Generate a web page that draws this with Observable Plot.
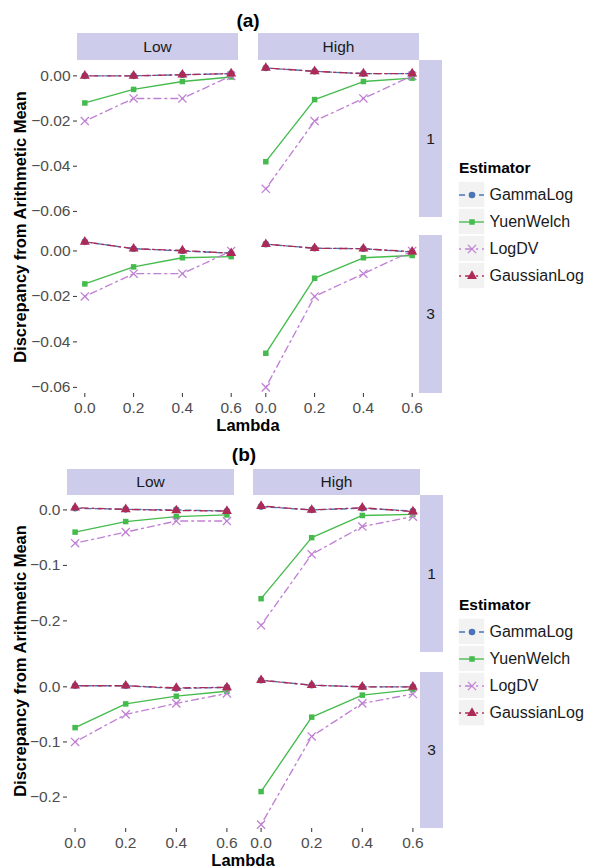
<!DOCTYPE html>
<html><head><meta charset="utf-8">
<script src="https://cdn.jsdelivr.net/npm/d3@7"></script>
<script src="https://cdn.jsdelivr.net/npm/@observablehq/plot@0.6"></script>
<style>
body{margin:0;background:#fff;font-family:"Liberation Sans",Arial,Helvetica,sans-serif;}
#root{position:relative;width:590px;height:868px;overflow:hidden;background:#fff;}
.strip{position:absolute;background:#cdcdeb;color:#1a1a1a;font-size:15.5px;display:flex;align-items:center;justify-content:center;}
.lab{position:absolute;white-space:nowrap;transform:translate(-50%,-50%);color:#000;}
.bold{font-weight:bold;}
#root svg.panel text{font-size:15.5px !important;fill:#4d4d4d;}
#root svg.legend text{font-size:16px !important;fill:#1a1a1a;}
</style></head>
<body><div id="root"></div>
<script>
// ---------- data ----------
const lambdas = [0, 0.2, 0.4, 0.6];
const estimators = ["GammaLog", "YuenWelch", "LogDV", "GaussianLog"];
const levels = ["Low", "High"];
const rowsLab = ["1", "3"];
// each array: Low/1, High/1, Low/3, High/3 (4 lambda values each)
const aGammaLog    = [0, 0, 0.0005, 0.001,   0.0035, 0.002, 0.001, 0.001,   0.004, 0.001, 0, -0.001,   0.003, 0.0012, 0.001, -0.0005];
const aYuenWelch   = [-0.012, -0.006, -0.0025, -0.0005,   -0.038, -0.0105, -0.0025, -0.001,   -0.0145, -0.007, -0.003, -0.0025,   -0.045, -0.012, -0.003, -0.002];
const aLogDV       = [-0.02, -0.01, -0.01, 0,   -0.05, -0.02, -0.01, 0,   -0.02, -0.01, -0.01, 0,   -0.06, -0.02, -0.01, 0];
const aGaussianLog = [0, 0, 0.0005, 0.001,   0.0035, 0.002, 0.001, 0.001,   0.004, 0.001, 0.0002, -0.001,   0.003, 0.0012, 0.001, -0.0003];

const bGammaLog    = [0.003, 0.001, 0, -0.002,   0.006, 0, 0.003, -0.002,   0.002, 0.002, -0.003, -0.001,   0.012, 0.003, 0, 0];
const bYuenWelch   = [-0.04, -0.021, -0.012, -0.009,   -0.16, -0.05, -0.01, -0.008,   -0.074, -0.031, -0.017, -0.008,   -0.19, -0.055, -0.015, -0.005];
const bLogDV       = [-0.06, -0.04, -0.02, -0.02,   -0.208, -0.08, -0.03, -0.012,   -0.1, -0.05, -0.03, -0.012,   -0.25, -0.09, -0.03, -0.013];
const bGaussianLog = [0.004, 0.001, -0.001, -0.002,   0.007, 0, 0.004, -0.003,   0.002, 0.002, -0.002, -0.001,   0.012, 0.003, 0, 0];

const yTicksA = [0, -0.02, -0.04, -0.06];
const yTicksB = [0, -0.1, -0.2];

// ---------- styles ----------
const colors = {GammaLog: "#4a74b8", YuenWelch: "#44bb4c", LogDV: "#c080d4", GaussianLog: "#ad2a55"};
const dashes = {GammaLog: "6,4", YuenWelch: null, LogDV: "2,4,7,4", GaussianLog: "2,4,7,4"};
const symbols = {GammaLog: "circle", YuenWelch: "square", LogDV: "times", GaussianLog: "triangle"};
const radii = {GammaLog: 3.3, YuenWelch: 3.1, LogDV: 3.8, GaussianLog: 3.7};
const FONT = '"Liberation Sans", Arial, Helvetica, sans-serif';

function buildTable(series) {
  const rows = [];
  estimators.forEach((est, k) => {
    series[k].forEach((v, i) => {
      const f = Math.floor(i / 4);
      rows.push({est, level: levels[f % 2], row: rowsLab[Math.floor(f / 2)], lambda: lambdas[i % 4], value: v});
    });
  });
  return rows;
}

const root = document.getElementById("root");

function addDiv(cls, text, left, top, extra) {
  const d = document.createElement("div");
  d.className = cls;
  d.textContent = text;
  d.style.left = left + "px";
  d.style.top = top + "px";
  Object.assign(d.style, extra || {});
  root.appendChild(d);
  return d;
}

function dotMark(d, est) {
  const o = {x: "lambda", y: "value", symbol: () => symbols[est], r: radii[est]};
  if (est === "LogDV") { o.stroke = colors[est]; o.fill = "none"; o.strokeWidth = 1.3; }
  else { o.fill = colors[est]; o.stroke = "none"; }
  return Plot.dot(d, o);
}

function drawPanel(rows, cfg) {
  const {x0, y0, w, h, yDomain, yTicks, yFmt, showY, showX} = cfg;
  const ml = showY ? 70 : 0, mb = showX ? 30 : 0;
  const marks = [];
  for (const est of estimators) {
    const d = rows.filter(r => r.est === est);
    const o = {x: "lambda", y: "value", stroke: colors[est], strokeWidth: 1.35};
    if (dashes[est]) o.strokeDasharray = dashes[est];
    marks.push(Plot.line(d, o));
  }
  for (const est of estimators) {
    marks.push(dotMark(rows.filter(r => r.est === est), est));
  }
  const p = Plot.plot({
    width: w + ml, height: h + mb,
    marginLeft: ml, marginRight: 0, marginTop: 0, marginBottom: mb,
    x: {domain: [-0.03, 0.63], ticks: lambdas, tickFormat: d3.format(".1f"), tickSize: 4, tickPadding: 4, label: null, axis: showX ? "bottom" : null},
    y: {domain: yDomain, ticks: yTicks, tickFormat: d3.format(yFmt), tickSize: 4, tickPadding: 3, label: null, axis: showY ? "left" : null},
    symbol: {type: "identity"},
    style: {background: "transparent", fontSize: "15.5px", fontFamily: FONT, color: "#333333", overflow: "visible"},
    marks
  });
  p.classList.add("panel");
  p.style.position = "absolute";
  p.style.left = (x0 - ml) + "px";
  p.style.top = y0 + "px";
  p.style.maxWidth = "none";
  root.appendChild(p);
}

function drawLegend(left, top) {
  const idx = estimators.map((e, i) => ({e, i}));
  const marks = [
    Plot.rect(idx, {x1: 0, x2: 1, y1: d => d.i, y2: d => d.i + 1, fill: "#f2f2f2", stroke: "white", strokeWidth: 1.5})
  ];
  for (const {e, i} of idx) {
    const o = {y: () => i + 0.5, x1: 0.04, x2: 0.96, stroke: colors[e], strokeWidth: 1.35};
    if (dashes[e]) o.strokeDasharray = dashes[e];
    marks.push(Plot.ruleY([0], o));
  }
  for (const {e, i} of idx) {
    marks.push(dotMark([{lambda: 0.5, value: i + 0.5}], e));
  }
  marks.push(Plot.text(idx, {x: 1, y: d => d.i + 0.5, text: d => d.e, dx: 4, textAnchor: "start", fill: "#1a1a1a", fontSize: 16}));
  const p = Plot.plot({
    width: 140, height: 108, margin: 0,
    x: {domain: [0, 1], range: [0, 27], axis: null},
    y: {domain: [0, 4], range: [0, 108], axis: null},
    symbol: {type: "identity"},
    style: {background: "transparent", fontSize: "16px", fontFamily: FONT, color: "#1a1a1a", overflow: "visible"},
    marks
  });
  p.classList.add("legend");
  p.style.position = "absolute";
  p.style.left = left + "px";
  p.style.top = top + "px";
  p.style.maxWidth = "none";
  root.appendChild(p);
}

function drawFigure(series, g) {
  const table = buildTable(series);
  levels.forEach((lv, c) => {
    rowsLab.forEach((rw, r) => {
      drawPanel(table.filter(d => d.level === lv && d.row === rw), {
        x0: g.cols[c][0], w: g.cols[c][1] - g.cols[c][0],
        y0: g.rows[r][0], h: g.rows[r][1] - g.rows[r][0],
        yDomain: g.yDomain, yTicks: g.yTicks, yFmt: g.yFmt,
        showY: c === 0, showX: r === 1
      });
    });
    const s = addDiv("strip", lv, g.cols[c][0], g.stripTop[0]);
    s.style.width = (g.cols[c][1] - g.cols[c][0]) + "px";
    s.style.height = (g.stripTop[1] - g.stripTop[0]) + "px";
  });
  rowsLab.forEach((rw, r) => {
    const s = addDiv("strip", rw, g.stripRight[0], g.rows[r][0]);
    s.style.width = (g.stripRight[1] - g.stripRight[0]) + "px";
    s.style.height = (g.rows[r][1] - g.rows[r][0]) + "px";
  });
  addDiv("lab bold", g.title, g.titlePos[0], g.titlePos[1], {fontSize: "19px"});
  addDiv("lab bold", "Lambda", g.xLabPos[0], g.xLabPos[1], {fontSize: "16.5px"});
  addDiv("lab bold", "Discrepancy from Arithmetic Mean", g.yLabPos[0], g.yLabPos[1],
    {fontSize: "16.5px", transform: "translate(-50%,-50%) rotate(-90deg)"});
  addDiv("lab bold", "Estimator", g.legTitle[0], g.legTitle[1], {fontSize: "15.5px", transform: "translate(0,-50%)"});
  drawLegend(g.legKeys[0], g.legKeys[1]);
}

drawFigure([aGammaLog, aYuenWelch, aLogDV, aGaussianLog], {
  cols: [[77, 238], [258, 419]], rows: [[60, 217], [235, 393]],
  stripTop: [33, 60], stripRight: [419, 442],
  yDomain: [-0.0627, 0.0068], yTicks: yTicksA, yFmt: ".2f",
  title: "(a)", titlePos: [248, 21], xLabPos: [248, 425], yLabPos: [20, 227],
  legTitle: [459, 168], legKeys: [458, 181]
});

drawFigure([bGammaLog, bYuenWelch, bLogDV, bGaussianLog], {
  cols: [[67, 234], [253, 420]], rows: [[495, 652], [672, 828]],
  stripTop: [469, 495], stripRight: [420, 443],
  yDomain: [-0.257, 0.026], yTicks: yTicksB, yFmt: ".1f",
  title: "(b)", titlePos: [244, 455], xLabPos: [243, 860], yLabPos: [20, 661],
  legTitle: [459, 605], legKeys: [458, 618]
});
</script>
</body></html>
